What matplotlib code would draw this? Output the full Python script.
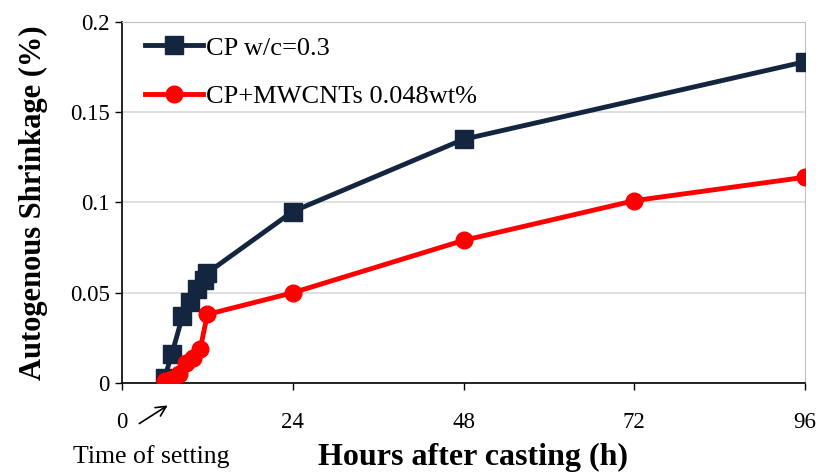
import matplotlib
matplotlib.use("Agg")
import matplotlib.pyplot as plt

# hours after casting / autogenous shrinkage (%)
cp_hours = [6, 7, 8.5, 9.5, 10.5, 11.5, 12, 24, 48, 96]
cp_shrink = [0.003, 0.016, 0.037, 0.045, 0.052, 0.057, 0.061, 0.095, 0.135, 0.178]

cnt_hours = [6, 7, 8, 9, 10, 11, 12, 24, 48, 72, 96]
cnt_shrink = [0.001, 0.002, 0.005, 0.011, 0.014, 0.019, 0.038, 0.050, 0.079, 0.101, 0.114]

x_ticks = [0, 24, 48, 72, 96]
y_ticks = [0, 0.05, 0.1, 0.15, 0.2]
y_tick_labels = ["0", "0.05", "0.1", "0.15", "0.2"]

plt.rcParams['font.family'] = ['Liberation Serif', 'DejaVu Serif']

fig = plt.figure(figsize=(8.2, 4.74), dpi=100)
ax = fig.add_axes([0.1488, 0.192, 0.8329, 0.7616])

navy = '#13253f'
ax.plot(cp_hours, cp_shrink, color=navy, lw=3.5, marker='s', ms=13,
        label='CP w/c=0.3', zorder=3)
ax.plot(cnt_hours, cnt_shrink, color='#ff0000', lw=3.5, marker='o', ms=12,
        label='CP+MWCNTs 0.048wt%', zorder=4)

ax.set_xlim(0, 96)
ax.set_ylim(0, 0.2)
ax.set_xticks(x_ticks)
ax.set_yticks(y_ticks)
ax.set_yticklabels(y_tick_labels)
ax.tick_params(axis='both', direction='out', labelsize=16.5, length=5, width=1, pad=4)
ax.tick_params(axis='x', pad=16)
ax.grid(axis='y', color='#d9d9d9', lw=1.2)
ax.set_axisbelow(True)

for s in ['top', 'right']:
    ax.spines[s].set_color('#bfbfbf')
for s in ['left', 'bottom']:
    ax.spines[s].set_color('black')
    ax.spines[s].set_linewidth(1.2)

ax.set_ylabel('Autogenous Shrinkage (%)', fontsize=22, fontweight='bold')
ax.yaxis.set_label_coords(-0.108, 0.5)
ax.set_xlabel('Hours after casting (h)', fontsize=23, fontweight='bold')
ax.xaxis.set_label_coords(0.514, -0.165)

ax.legend(loc='upper left', frameon=False, fontsize=19, handlelength=2.2,
          borderaxespad=0.0, labelspacing=0.95, handletextpad=0.1,
          bbox_to_anchor=(0.018, 0.99))

ax.annotate('', xy=(6.75, -0.0116), xytext=(2.1, -0.0233),
            xycoords='data', textcoords='data', annotation_clip=False,
            arrowprops=dict(arrowstyle='->', color='black', lw=1.2,
                            mutation_scale=18))
fig.text(0.185, 0.036, 'Time of setting', fontsize=18.5, ha='center', va='center')

fig.savefig('out.png', dpi=100)
